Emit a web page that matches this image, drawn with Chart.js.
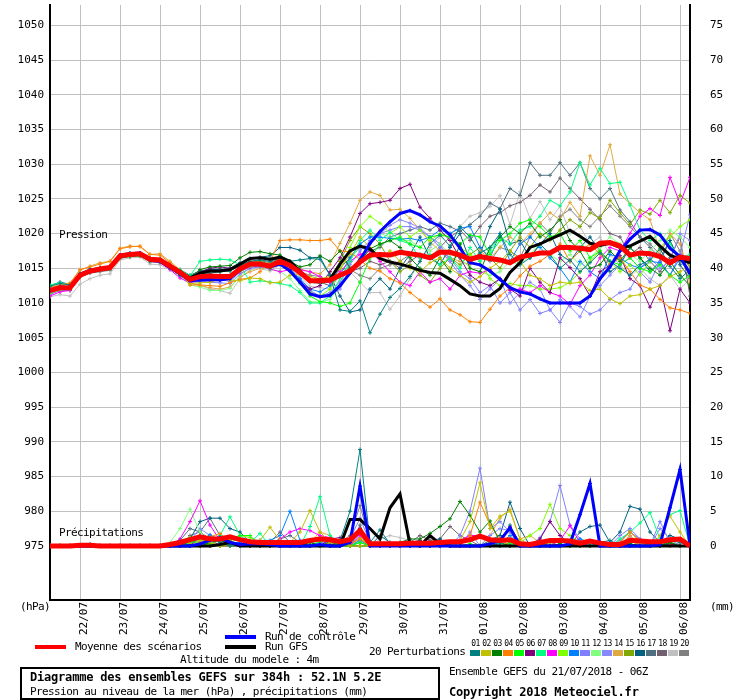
<!DOCTYPE html>
<html>
<head>
<meta charset="utf-8">
<script src="https://cdn.jsdelivr.net/npm/chart.js@4.4.1/dist/chart.umd.min.js"></script>
<style>
body { margin: 0; background: #fff; }
#wrap { position: relative; width: 740px; height: 700px; font-family: "DejaVu Sans Mono", monospace; font-size: 11px; color: #000; overflow: hidden; }
#wrap canvas { position: absolute; left: 0; top: 0; }
.t { position: absolute; white-space: nowrap; line-height: 12px; letter-spacing: -0.6px; }
.b { font-weight: bold; font-size: 12px; letter-spacing: -0.2px; }
.ln { position: absolute; height: 4px; width: 31px; }
.sw { position: absolute; width: 10px; height: 6px; top: 650px; }
.num { position: absolute; top: 639px; width: 11px; text-align: center; font-size: 8px; line-height: 9px; letter-spacing: -0.6px; }
#box { position: absolute; left: 20px; top: 667px; width: 420px; height: 33px; border: 2px solid #000; box-sizing: border-box; }
</style>
</head>
<body>
<div id="wrap">
  <canvas id="grafica" width="740" height="700"></canvas>
  <div class="t" style="left:59px;top:229px">Pression</div>
  <div class="t" style="left:59px;top:527px">Précipitations</div>
  <div class="t" style="left:20px;top:601px">(hPa)</div>
  <div class="t" style="left:710px;top:601px">(mm)</div>
  <div class="ln" style="left:35px;top:645px;background:#ff0000"></div>
  <div class="t" style="left:75px;top:641px">Moyenne des scénarios</div>
  <div class="ln" style="left:225px;top:635px;background:#0000ff"></div>
  <div class="t" style="left:265px;top:631px">Run de contrôle</div>
  <div class="ln" style="left:225px;top:645px;background:#000000"></div>
  <div class="t" style="left:265px;top:641px">Run GFS</div>
  <div class="t" style="left:180px;top:654px">Altitude du modele : 4m</div>
  <div id="box"></div>
  <div class="t b" style="left:30px;top:671px">Diagramme des ensembles GEFS sur 384h : 52.1N 5.2E</div>
  <div class="t" style="left:30px;top:686px">Pression au niveau de la mer (hPa) , précipitations (mm)</div>
  <div class="t" style="left:369px;top:646px">20 Perturbations</div>
  <div class="t" style="left:449px;top:666px">Ensemble GEFS du 21/07/2018 - 06Z</div>
  <div class="t b" style="left:449px;top:686px">Copyright 2018 Meteociel.fr</div>
  <div id="swatches"></div>
</div>
<script>
// Ejes
const dayLabels = ['22/07', '23/07', '24/07', '25/07', '26/07', '27/07', '28/07', '29/07', '30/07', '31/07', '01/08', '02/08', '03/08', '04/08', '05/08', '06/08']
const dayHours = [18, 42, 66, 90, 114, 138, 162, 186, 210, 234, 258, 282, 306, 330, 354, 378]
const pressTicks = [975, 980, 985, 990, 995, 1000, 1005, 1010, 1015, 1020, 1025, 1030, 1035, 1040, 1045, 1050]
const precipTicks = [0, 5, 10, 15, 20, 25, 30, 35, 40, 45, 50, 55, 60, 65, 70, 75]

const pertColors = ['rgb(0,128,128)', 'rgb(192,192,0)', 'rgb(0,128,0)', 'rgb(255,128,0)', 'rgb(0,255,0)', 'rgb(128,0,128)', 'rgb(0,255,128)', 'rgb(255,0,255)', 'rgb(128,255,0)', 'rgb(0,128,255)',
  'rgb(128,128,255)', 'rgb(128,255,128)', 'rgb(136,136,255)', 'rgb(224,168,64)', 'rgb(128,168,0)', 'rgb(0,96,128)', 'rgb(80,112,128)', 'rgb(112,96,112)', 'rgb(192,192,192)', 'rgb(128,128,128)']

// Pression (hPa), pas de 6h depuis 21/07 06Z
const pressMean = [1011.8,1012.2,1012.2,1014.0,1014.6,1014.9,1015.1,1016.8,1017.0,1017.1,1016.3,1016.2,1015.3,1014.4,1013.4,1013.8,1013.9,1013.8,1013.8,1014.9,1015.6,1015.6,1015.3,1016.0,1015.4,1014.4,1013.2,1013.2,1013.3,1014.0,1014.6,1015.9,1016.9,1017.0,1016.9,1017.3,1017.1,1016.9,1016.5,1017.3,1017.3,1016.9,1016.3,1016.7,1016.4,1016.2,1015.8,1016.6,1016.9,1017.2,1017.2,1018.0,1018.0,1017.9,1017.7,1018.6,1018.7,1018.2,1016.9,1017.2,1017.1,1016.7,1015.8,1016.6,1016.4]
const pressControl = [1011.7,1012.3,1012.2,1014.1,1014.7,1014.9,1015.0,1016.9,1017.1,1017.2,1016.2,1016.0,1015.1,1014.2,1013.2,1013.3,1013.4,1013.3,1013.5,1014.8,1015.7,1015.6,1015.2,1015.6,1014.6,1013.0,1011.3,1010.9,1011.1,1012.5,1014.3,1016.2,1018.6,1020.3,1021.7,1022.9,1023.3,1022.7,1021.7,1021.1,1019.8,1017.9,1015.8,1015.5,1014.6,1013.4,1012.2,1011.6,1011.3,1010.6,1010.0,1010.0,1010.0,1010.0,1011.0,1013.5,1015.2,1017.5,1019.2,1020.5,1020.6,1019.8,1017.9,1016.7,1014.2]
const pressGfs = [1011.8,1012.1,1012.1,1014.0,1014.5,1014.8,1015.0,1016.8,1017.0,1017.0,1016.2,1016.1,1015.2,1014.4,1013.6,1014.3,1014.6,1014.6,1014.8,1015.6,1016.4,1016.5,1016.3,1016.6,1016.0,1014.6,1013.2,1013.3,1013.4,1015.6,1017.5,1018.2,1017.8,1016.4,1015.9,1015.6,1015.2,1014.7,1014.4,1014.3,1013.4,1012.5,1011.3,1011.0,1011.0,1012.1,1014.4,1015.8,1018.0,1018.5,1019.2,1019.8,1020.5,1019.6,1018.6,1018.3,1018.6,1018.0,1018.2,1018.9,1019.6,1018.2,1016.9,1016.3,1015.8]
const press01 = [1012.4,1012.8,1012.6,1014.2,1014.8,1015.0,1015.3,1016.9,1017.2,1017.0,1016.4,1016.0,1015.0,1014.0,1013.6,1014.2,1014.3,1014.5,1014.6,1015.4,1016.0,1016.2,1016.0,1016.5,1016.0,1016.2,1016.4,1016.3,1014.0,1009.0,1008.8,1010.3,1005.7,1008.4,1010.8,1012.1,1013.8,1016.0,1018.5,1019.8,1018.2,1021.0,1019.5,1017.2,1018.0,1020.0,1017.0,1015.5,1016.5,1018.5,1017.0,1015.0,1016.2,1014.5,1015.8,1017.2,1016.0,1015.0,1014.0,1015.5,1016.2,1017.8,1015.3,1013.5,1014.8]
const press02 = [1011.6,1012.0,1012.1,1013.8,1014.5,1014.7,1015.0,1016.6,1016.9,1017.0,1016.2,1016.0,1015.2,1014.2,1012.8,1012.9,1013.0,1013.4,1013.3,1013.2,1013.6,1013.5,1012.9,1013.0,1014.0,1014.2,1013.8,1013.5,1013.8,1015.0,1017.0,1019.5,1018.0,1016.5,1017.5,1016.0,1015.0,1014.5,1015.8,1016.5,1015.0,1014.0,1013.0,1013.8,1015.0,1016.0,1017.5,1016.0,1014.0,1013.5,1012.5,1013.0,1012.8,1013.0,1011.8,1012.0,1010.6,1009.9,1011.0,1011.2,1012.0,1012.5,1013.8,1014.5,1015.5]
const press03 = [1011.9,1012.3,1012.4,1014.1,1014.7,1015.0,1015.2,1016.5,1016.7,1016.8,1016.2,1016.1,1015.4,1014.6,1013.7,1014.8,1015.2,1015.3,1015.4,1016.5,1017.3,1017.4,1017.1,1016.9,1016.0,1015.2,1015.5,1016.8,1016.0,1017.5,1015.0,1016.0,1017.8,1018.5,1019.0,1018.0,1016.5,1015.0,1014.0,1016.5,1014.5,1018.5,1015.0,1014.5,1018.0,1019.5,1021.0,1020.0,1021.5,1019.5,1020.5,1022.0,1019.0,1017.5,1015.0,1015.5,1017.5,1016.0,1018.0,1016.5,1015.0,1014.0,1016.0,1014.0,1012.5]
const press04 = [1012.2,1012.5,1012.8,1014.8,1015.2,1015.6,1016.0,1017.8,1018.1,1018.2,1017.0,1016.9,1015.8,1014.5,1012.6,1012.6,1012.5,1012.4,1012.9,1013.4,1013.6,1014.5,1016.0,1019.0,1019.1,1019.1,1019.0,1019.0,1019.2,1017.5,1017.4,1016.2,1015.0,1014.6,1013.5,1012.9,1011.5,1010.4,1009.4,1010.6,1009.0,1008.3,1007.3,1007.2,1009.1,1011.0,1012.2,1013.9,1015.3,1016.0,1017.0,1018.5,1016.0,1017.5,1018.5,1017.0,1015.5,1016.5,1014.5,1012.6,1012.0,1010.5,1009.3,1009.0,1008.5]
const press05 = [1011.5,1012.0,1012.0,1013.8,1014.4,1014.7,1014.9,1016.6,1016.8,1016.9,1016.0,1015.9,1015.0,1014.1,1013.2,1013.4,1013.5,1013.6,1013.4,1014.6,1015.3,1015.4,1015.0,1015.6,1014.5,1012.8,1011.0,1010.2,1010.0,1009.5,1010.0,1013.0,1016.5,1018.5,1019.0,1019.5,1018.5,1018.0,1019.5,1019.8,1019.5,1018.5,1019.8,1019.5,1017.0,1019.0,1020.0,1021.5,1022.0,1021.0,1019.5,1020.0,1017.5,1019.0,1016.5,1017.5,1016.0,1015.5,1016.5,1015.0,1014.5,1015.5,1014.0,1013.0,1014.0]
const press06 = [1011.7,1012.1,1012.0,1014.0,1014.5,1014.8,1015.0,1016.7,1016.9,1017.0,1016.1,1016.0,1015.2,1014.3,1013.5,1014.4,1015.0,1015.2,1015.0,1015.2,1015.5,1015.5,1015.0,1015.8,1014.8,1013.0,1012.0,1012.5,1014.5,1016.5,1019.5,1022.9,1024.3,1024.5,1024.8,1026.5,1027.1,1023.8,1022.2,1020.5,1019.0,1016.5,1014.0,1013.0,1012.5,1013.5,1012.0,1011.0,1015.0,1013.0,1011.5,1016.5,1015.1,1013.5,1011.0,1014.5,1015.5,1016.8,1013.5,1012.5,1009.4,1012.5,1006.0,1012.0,1010.0]
const press07 = [1012.6,1012.9,1012.5,1014.2,1014.6,1014.9,1015.1,1016.7,1016.9,1017.0,1016.4,1016.2,1015.5,1014.8,1013.9,1016.0,1016.2,1016.3,1016.2,1015.5,1013.0,1013.2,1013.0,1012.8,1012.5,1011.5,1010.0,1010.0,1011.0,1013.5,1016.0,1019.0,1020.5,1019.0,1020.2,1019.0,1018.5,1016.5,1017.0,1015.5,1016.5,1015.0,1018.0,1016.0,1017.5,1019.5,1018.5,1020.5,1021.0,1022.5,1024.8,1024.0,1026.0,1030.2,1027.0,1029.4,1027.2,1027.4,1024.1,1020.5,1019.0,1020.0,1018.5,1016.5,1017.0]
const press08 = [1011.0,1011.6,1011.8,1013.9,1014.4,1014.7,1015.0,1016.7,1016.9,1017.0,1016.0,1015.8,1014.8,1013.6,1012.9,1013.3,1013.2,1013.3,1013.4,1014.5,1015.2,1015.3,1014.9,1014.5,1014.8,1014.8,1014.5,1013.8,1013.0,1014.5,1016.0,1017.0,1017.5,1016.0,1014.5,1013.0,1012.5,1014.5,1013.0,1013.5,1012.0,1014.0,1014.5,1014.3,1014.8,1013.5,1011.8,1012.0,1011.5,1012.5,1011.5,1011.0,1009.8,1012.5,1014.0,1016.5,1018.0,1017.5,1020.0,1022.5,1023.6,1022.6,1028.1,1024.3,1028.1]
const press09 = [1011.4,1011.9,1012.0,1013.9,1014.5,1014.8,1015.0,1016.8,1017.0,1017.1,1016.3,1016.2,1015.3,1014.3,1013.2,1013.6,1013.8,1013.9,1013.7,1015.0,1015.8,1015.7,1015.4,1016.2,1014.8,1013.0,1011.5,1011.0,1012.0,1014.5,1018.0,1021.0,1022.5,1021.5,1020.0,1021.0,1019.5,1020.5,1019.0,1020.0,1019.5,1018.0,1017.0,1016.0,1013.5,1012.5,1012.8,1012.5,1012.5,1012.0,1012.0,1012.2,1013.0,1014.5,1016.0,1017.5,1016.0,1014.5,1015.5,1014.0,1016.0,1018.0,1019.5,1021.0,1022.0]
const press10 = [1012.1,1012.4,1012.3,1014.0,1014.6,1014.9,1015.0,1016.9,1017.1,1017.2,1016.2,1016.1,1015.2,1014.5,1013.3,1013.5,1013.7,1013.8,1013.5,1014.8,1015.5,1015.6,1015.3,1015.8,1014.9,1013.5,1012.0,1011.6,1012.5,1014.0,1016.5,1018.5,1019.5,1019.5,1019.3,1019.2,1019.3,1019.0,1019.5,1020.5,1020.0,1020.8,1021.0,1018.0,1016.5,1020.0,1016.0,1018.5,1019.5,1018.0,1016.5,1015.0,1013.0,1016.0,1014.5,1013.5,1017.0,1016.5,1015.5,1015.0,1016.0,1015.8,1014.0,1016.5,1015.5]
const press11 = [1011.2,1011.8,1011.9,1013.8,1014.4,1014.7,1014.9,1016.6,1016.8,1016.9,1016.0,1015.9,1015.0,1014.0,1013.0,1013.1,1013.0,1012.9,1012.8,1014.2,1015.0,1015.2,1015.0,1015.5,1014.6,1013.2,1011.8,1011.0,1011.5,1013.0,1015.5,1017.5,1019.0,1020.0,1020.5,1021.0,1021.0,1020.5,1019.5,1018.0,1016.5,1014.5,1013.5,1011.5,1012.5,1010.0,1011.5,1009.0,1010.5,1008.5,1009.0,1007.2,1010.0,1009.5,1008.4,1009.0,1010.5,1011.5,1012.0,1014.5,1013.0,1016.0,1014.0,1017.0,1022.7]
const press12 = [1011.8,1012.3,1012.4,1014.0,1014.6,1014.9,1015.1,1016.7,1016.9,1017.0,1016.2,1016.0,1015.0,1013.9,1012.6,1012.3,1011.8,1011.8,1012.1,1014.0,1015.0,1015.2,1014.8,1014.6,1013.5,1011.8,1010.2,1010.1,1010.5,1012.5,1016.0,1018.5,1019.5,1020.0,1019.5,1019.0,1019.0,1018.0,1017.5,1018.5,1017.0,1016.5,1015.0,1014.5,1014.0,1014.5,1016.0,1015.5,1017.0,1018.5,1017.0,1016.0,1017.0,1015.5,1016.5,1018.0,1019.5,1018.5,1017.0,1016.0,1017.5,1019.0,1020.5,1019.5,1018.0]
const press13 = [1011.6,1012.1,1012.2,1014.0,1014.6,1014.8,1015.0,1016.8,1017.0,1017.0,1016.2,1016.1,1015.1,1014.2,1013.1,1013.0,1013.2,1013.4,1013.1,1014.5,1015.4,1015.5,1015.2,1015.9,1015.0,1013.4,1011.6,1011.0,1011.0,1012.0,1014.5,1016.5,1018.5,1020.0,1021.2,1022.0,1021.5,1020.8,1019.5,1018.5,1016.0,1014.0,1012.5,1010.5,1012.0,1013.5,1010.0,1011.5,1013.0,1012.0,1009.0,1010.5,1009.5,1008.0,1011.0,1012.5,1014.0,1015.5,1016.5,1015.0,1016.5,1015.0,1016.0,1020.0,1019.0]
const press14 = [1012.3,1012.6,1012.9,1014.7,1015.3,1015.8,1016.0,1017.9,1018.2,1018.1,1017.0,1017.1,1016.0,1014.8,1012.9,1012.5,1012.2,1012.0,1012.3,1013.8,1014.5,1015.0,1015.5,1016.3,1015.5,1014.9,1014.5,1014.2,1015.5,1018.6,1021.5,1024.8,1026.0,1025.5,1023.4,1023.5,1022.2,1020.5,1018.8,1017.5,1016.5,1016.0,1015.5,1017.5,1016.5,1018.0,1019.5,1018.5,1020.0,1021.5,1023.0,1022.0,1024.5,1022.5,1031.2,1028.4,1032.8,1025.7,1024.3,1023.0,1022.0,1017.5,1020.0,1018.5,1013.0]
const press15 = [1011.9,1012.2,1012.3,1014.1,1014.7,1015.0,1015.2,1016.9,1017.1,1017.2,1016.4,1016.3,1015.4,1014.5,1013.4,1013.8,1014.0,1014.1,1013.9,1015.2,1016.0,1016.0,1015.6,1016.4,1015.8,1014.6,1013.4,1013.0,1013.5,1016.0,1019.0,1021.0,1020.0,1018.5,1016.0,1014.5,1015.5,1014.0,1013.0,1015.0,1016.5,1015.5,1017.0,1018.0,1016.5,1015.0,1017.5,1019.5,1018.0,1020.0,1019.0,1020.5,1022.0,1021.0,1023.0,1022.2,1024.8,1023.0,1021.3,1023.4,1022.8,1024.8,1023.0,1025.5,1024.4]
const press16 = [1012.5,1013.0,1012.7,1014.3,1014.9,1015.1,1015.3,1016.8,1017.0,1017.0,1016.5,1016.4,1015.6,1014.8,1014.0,1014.6,1014.9,1014.8,1015.0,1015.8,1016.4,1016.6,1016.8,1018.0,1018.0,1017.6,1016.5,1016.6,1014.0,1011.0,1008.7,1009.0,1012.0,1013.5,1012.0,1015.0,1017.0,1019.5,1016.5,1015.5,1018.0,1020.0,1016.0,1017.0,1021.0,1023.5,1018.5,1019.0,1016.5,1018.5,1020.0,1017.0,1016.0,1018.0,1019.5,1017.5,1014.5,1015.5,1018.0,1016.5,1014.5,1016.0,1019.0,1015.5,1013.5]
const press17 = [1011.9,1012.2,1012.3,1014.1,1014.7,1015.0,1015.2,1016.9,1017.1,1017.2,1016.5,1016.3,1015.5,1014.7,1013.7,1014.5,1014.8,1014.9,1014.7,1015.3,1016.0,1016.1,1015.8,1016.4,1015.5,1014.3,1013.0,1012.8,1013.0,1015.0,1016.5,1018.0,1017.5,1018.0,1019.5,1020.0,1020.5,1021.0,1020.5,1021.5,1021.0,1020.3,1021.3,1022.5,1024.4,1023.6,1026.5,1025.5,1030.2,1028.4,1028.4,1030.2,1028.4,1030.2,1026.5,1025.0,1026.5,1023.4,1021.7,1019.5,1018.0,1016.5,1019.0,1016.0,1014.5]
const press18 = [1011.5,1011.9,1012.0,1013.9,1014.5,1014.8,1015.0,1016.6,1016.8,1016.9,1016.1,1016.0,1015.1,1014.2,1013.3,1013.8,1014.0,1013.9,1013.8,1015.0,1015.7,1015.6,1015.2,1015.8,1015.2,1014.2,1013.2,1013.0,1012.5,1014.0,1014.5,1015.0,1016.0,1015.5,1016.0,1015.0,1016.0,1017.0,1016.5,1018.0,1019.5,1020.5,1019.0,1021.0,1022.5,1023.0,1024.0,1024.5,1025.5,1027.0,1026.0,1028.0,1026.5,1025.0,1023.5,1022.0,1020.0,1019.5,1017.0,1018.0,1016.0,1014.5,1016.5,1019.5,1011.0]
const press19 = [1010.9,1011.2,1011.0,1012.7,1013.5,1014.0,1014.2,1016.2,1016.5,1016.6,1015.6,1015.5,1014.8,1013.8,1012.8,1012.6,1012.0,1011.8,1011.4,1013.5,1014.8,1015.0,1014.6,1015.5,1015.0,1013.8,1012.4,1012.2,1012.0,1014.0,1014.5,1013.0,1011.5,1011.5,1009.1,1011.0,1013.5,1016.0,1018.0,1019.5,1020.0,1021.0,1022.5,1023.0,1023.9,1025.5,1021.3,1026.0,1022.2,1024.6,1022.0,1023.9,1020.0,1021.0,1018.5,1019.5,1017.0,1015.5,1014.0,1015.0,1013.5,1012.5,1014.0,1012.0,1013.5]
const press20 = [1011.3,1011.8,1011.8,1013.7,1014.3,1014.5,1014.7,1016.4,1016.7,1016.8,1015.9,1015.8,1015.0,1014.0,1013.2,1013.6,1013.7,1013.6,1013.5,1014.7,1015.3,1015.3,1015.0,1015.6,1015.0,1014.5,1014.0,1013.8,1013.0,1015.0,1014.8,1014.0,1013.5,1015.0,1015.5,1016.0,1017.0,1016.5,1016.8,1017.5,1016.0,1017.0,1016.5,1017.0,1016.0,1018.0,1017.5,1016.5,1019.5,1021.5,1020.0,1022.5,1023.5,1022.0,1021.0,1022.5,1024.0,1022.5,1021.0,1019.5,1018.5,1017.0,1020.0,1017.5,1015.0]

// Précipitations (mm / 6h)
const precipMean = [0,0,0,0.1,0.1,0,0,0,0,0,0,0,0.2, 0.5,0.9,1.3,1.0,1.0,1.3,0.9,0.6,0.5,0.5,0.5,0.5,0.5, 0.8,1.0,0.9,0.6,0.9,2.2,0.3,0.3,0.3,0.3,0.4,0.4,0.4, 0.5,0.6,0.6,0.9,1.4,0.9,0.8,0.9,0.3,0.2,0.5,0.8,0.8, 0.7,0.4,0.7,0.4,0.2,0.2,0.8,0.7,0.6,0.6,0.9,1.0,0]
const precipControl = [0,0,0,0,0,0,0,0,0,0,0,0,0, 0,0,0.3,0.8,1.2,0.5,0.2,0.3,0.3,0.2,0,0,0, 0,0.2,0,0,0.5,8.6,0,0,0,0,0,0,0, 0,0,0,0,0,0.3,0.8,2.6,0,0,0,0,0, 0.3,4.5,9.0,0,0,0,0,0,0,0.2,5.5,11.0,0]
const precipGfs = [0,0,0,0,0,0,0,0,0,0,0,0,0, 0,0,0,0,0.2,0.5,0,0,0,0,0,0,0, 0,0,0,0,3.8,3.8,2.5,1.0,5.5,7.5,0.2,0,1.5, 0.3,0,0,0,0,0,0,0,0,0,0,0,0, 0,0,0,0,0,0,0,0,0,0,0,0,0]
const precip01 = [0,0,0,0,0.3,0,0,0,0,0,0,0,0, 0.8,0,1.5,1.2,0.5,0,0,0,0,0,0,0,0, 0,0,0,0.8,5.0,13.9,0.5,2.3,0.3,0,0,0.3,0, 0,0,0,0,0,0,0.5,3.0,0.3,0,0,0,0, 0,0,0,0.5,0.8,0,0,0,0,0,0.8,0.5,0]
const precip02 = [0,0,0,0,0,0,0,0,0,0,0,0,0, 0,0.3,0.8,0.5,0,0,0,0.3,0.8,2.7,0.8,0.5,2.0, 5.1,2.0,0.5,0,0,0,0,0,0,0,0,0,0, 0,0,0.8,3.5,9.1,2.5,4.3,5.0,1.0,0,0,0,0, 0,0,0,0,0,0.3,0.8,0,0,1.5,4.3,2.0,0]
const precip03 = [0,0,0,0,0,0,0,0,0,0,0,0,0, 0,0,0,0.5,0.8,0.3,0,0,0,0,0,0,0, 0.5,0,0.6,0,0,0,0,0,0,0.5,1.0,1.0,1.8, 2.8,3.9,6.4,4.4,2.0,3.6,0.5,0,0,0,0,0,0.3, 0,0,0,0,0,0,0.3,0,0,0,0.5,0,0]
const precip04 = [0,0,0,0,0,0,0,0,0,0,0,0,0, 0,0,0.5,1.3,1.8,0.6,0,0,0,0,0,0,0, 0,0,0.5,0,0.3,1.0,0,0,0,0,0,0,0, 0,0,0,1.5,6.3,3.0,1.0,0,0,0,0.5,0,0.3, 0,0,0,0,0,0.5,2.0,0.8,0,0,0,0,0]
const precip05 = [0,0,0,0,0,0,0,0,0,0,0,0,0, 0,0.6,0.5,0.3,0,0.3,1.5,1.5,0,0.3,0,0,0, 0,0.6,1.0,0,0,0.5,0,0.3,0,0,0,0,0, 0,0,0,0.3,0,0,0,0.5,0,0,0,0,0, 0,0,0,0,0,0,0.3,0,0,0,0.5,0.8,0]
const precip06 = [0,0,0,0,0,0,0,0,0,0,0,0,0, 0,0,0,0,0,0,0,0,0,0,0,0,0, 0.6,0,1.0,1.2,0.5,2.5,0,0.3,0,0,0.5,0.8,0, 0,0,0,0,0,0,0,0,0,0,1.0,3.5,1.5, 0.3,0,0,0,0,0,0.3,0,0,0,0.3,0,0]
const precip07 = [0,0,0,0,0,0,0,0,0,0,0,0,0, 0,0.5,1.0,0,1.5,4.2,1.5,0.5,1.8,0,0,0,0, 2.8,7.1,1.5,0.5,0,0.5,0,0,0,0,0,0,0, 0,0,0,0,0,0,0,0.3,0,0,0,0,0, 0,0,0,0,0,1.0,2.0,3.3,4.8,1.0,4.5,5.1,0]
const precip08 = [0,0,0,0,0,0,0,0,0,0,0,0,0, 1.0,3.5,6.5,3.0,0.8,0.5,0,0,0,0.3,1.0,2.0,2.5, 2.2,1.5,1.2,0.3,0,1.5,0,0,0,0,0,0,0, 0,0.5,0.8,1.5,1.5,0.8,1.0,2.8,0.5,0,0,0,0.8, 2.9,0.5,0,0,0,0,0,0,0,0,0,0,0]
const precip09 = [0,0,0,0,0,0,0,0,0,0,0,0,0.3, 0.8,1.2,0.8,0,0,1.0,1.5,1.2,0.5,0,0,0,0, 0,1.5,0.8,0,0,1.2,0,0,0,0,0,0,0, 0,0,0,0,0,0,0,0.3,0.5,1.5,2.5,6.0,2.5, 1.5,0.5,0,0,0,0,0,0,0,0,0,0,0]
const precip10 = [0,0,0,0,0,0,0,0,0,0,0,0,0, 0,0.3,0.8,1.6,0.8,0.5,0.5,0.8,0.8,0.8,1.5,5.0,0.8, 0,0,0.3,0,0,0.8,0,0,0,0,0,0,0, 0,0,0,0,0,0,0.3,1.5,0,0,0,0,0, 0.5,1.0,0.5,0,0,0,0,0,0,0,0,0,0]
const precip11 = [0,0,0,0,0,0,0,0,0,0,0,0,0, 0,0,0.5,1.0,0.5,0,0,0,0,0,0,0,0, 0,1.3,0.8,0,1.0,4.0,0.5,0,0,0,0,0,0, 0,0,1.5,5.0,11.2,2.5,3.5,2.0,0,0,1.2,3.5,8.7, 3.0,1.0,0,0,0,1.5,2.5,1.0,0,3.5,0.5,0,0]
const precip12 = [0,0,0,0,0,0,0,0,0,0,0,0,0.5, 2.5,5.3,2.0,0.8,0.5,0,0,0,0.5,0.5,0,0,0, 0,0.8,1.2,0,0,1.0,0,0,0,0,0,0,0, 0,0,0,0,0,0,0,0,0,0,0,0,0, 0,0.5,0.3,0,0,0,0,0,0,0,0,0,0]
const precip13 = [0,0,0,0,0,0,0,0,0,0,0,0,0, 0,0.8,2.5,1.5,0.5,0,0,0,0,0,0,0,0, 0,0.5,0.5,0,0,1.8,0,0,0,0,0,0,0, 0,0.5,0,2.0,0,1.5,2.5,2.2,0,0,0,0,0, 0,0,0,0,0,0.8,2.0,1.0,0,2.5,1.0,0,0]
const precip14 = [0,0,0,0,0,0,0,0,0,0,0,0,0, 0,0,1.0,1.5,1.0,0,0,0,0,0,0,0,0, 0.5,2.0,1.5,0,0,0,0,0,0,0,0,0,0, 0.5,0,0,0,0,1.5,4.0,5.3,1.0,1.5,0.5,0,0, 0,0,0,0,0,0,1.5,0,0,0,0.8,0,0]
const precip15 = [0,0,0,0,0,0,0,0,0,0,0,0,0, 0,0,0.5,0,1.2,0.8,0,0,0,0,0,0,0, 0,0,0.3,0,0,0.5,0,0,0,0,0,0,0, 0,0,0,0,0,0.5,0,0,0,0,0,0.5,0, 0,0,0,0,0,0.5,2.2,0.5,0,0,0.5,0,0]
const precip16 = [0,0,0,0,0,0,0,0,0,0,0,0,0, 0,1.0,3.5,4.0,4.0,2.5,2.0,0.5,0,0,0,0,0, 0,0,0,0,0,0,0,1.5,0.5,0,0,0,0, 1.0,0,0,0,0,0.8,1.5,6.3,2.5,0,0,0,0, 0,2.0,2.8,3.0,0.5,2.0,5.7,5.3,2.0,0.5,1.5,1.0,0]
const precip17 = [0,0,0,0,0,0,0,0,0,0,0,0,0, 0.8,2.5,2.0,4.0,1.5,0.8,0,0,0.5,0.3,1.0,1.5,0.5, 0,0,0,0,0,3.0,0,0.3,0,0,0,0,0, 0,0,0,0,0,0,0,0,0,0,0,0,0, 0,0,0,0,0,0.5,0,0,0,0,0,0,0]
const precip18 = [0,0,0,0,0,0,0,0,0,0,0,0,0, 0,1.5,2.0,1.0,0,0,0,0,0,0.5,2.0,0.5,0, 0,0,0,0.8,0,2.2,0,0,0,0,0.5,1.5,0.8, 1.0,2.8,1.5,0.8,0,0,0,0,0,0,0,0,0, 0,0,0,0,0,0,1.5,0,0,0,0.5,0,0]
const precip19 = [0,0,0,0,0,0,0,0,0,0,0,0,0, 0,0.5,1.5,0.5,0,0,0,0,0,0,0,0,0, 0,0,0,0,0,1.0,0,1.0,1.5,1.2,0.8,0.3,0, 0,0,0,0,0,0,0,0.5,0,0,0,0,0, 0,0,0,0,0,0,0,0.3,0,0,0.5,0,0]
const precip20 = [0,0,0,0,0,0,0,0,0,0,0,0,0, 0,0,1.5,1.0,0.8,0,0,0,0,0,0,0,0.5, 0,0,0,0.5,1.5,5.8,0.5,0.5,0,0,0.3,0,0.8, 0,0,0,0,0,0,0,0,0,0,0,0,0, 0,0,0,0,0,0,0,0.5,0,0,0,0.5,0]

const pertPress = [press01, press02, press03, press04, press05, press06, press07, press08, press09, press10, press11, press12, press13, press14, press15, press16, press17, press18, press19, press20]
const pertPrecip = [precip01, precip02, precip03, precip04, precip05, precip06, precip07, precip08, precip09, precip10, precip11, precip12, precip13, precip14, precip15, precip16, precip17, precip18, precip19, precip20]

// Leyenda de perturbaciones
const swatches = document.querySelector('#swatches')
pertColors.forEach((c, k) => {
  const n = document.createElement('div')
  n.className = 'num'
  n.style.left = (470 + 11 * k) + 'px'
  n.textContent = String(k + 1).padStart(2, '0')
  swatches.appendChild(n)
  const s = document.createElement('div')
  s.className = 'sw'
  s.style.left = (470 + 11 * k) + 'px'
  s.style.background = c
  swatches.appendChild(s)
})

// Gráfica
const hours = pressMean.map((v, i) => i * 6)
const toXY = values => values.map((v, i) => ({ x: hours[i], y: v }))
const font = { family: 'DejaVu Sans Mono', size: 11 }

const datasets = []
function addPair(press, precip, color, width, points, order) {
  const base = {
    borderColor: color, backgroundColor: color, borderWidth: width, fill: false,
    pointStyle: 'cross', pointRadius: points ? 2 : 0, pointBorderWidth: 1, pointBorderColor: color,
    order: order
  }
  datasets.push(Object.assign({ data: toXY(press), yAxisID: 'y' }, base))
  datasets.push(Object.assign({ data: toXY(precip), yAxisID: 'y2' }, base))
}
addPair(pressMean, precipMean, '#ff0000', 5, false, 0)
addPair(pressControl, precipControl, '#0000ff', 3, true, 1)
addPair(pressGfs, precipGfs, '#000000', 3, false, 2)
pertPress.forEach((p, k) => addPair(p, pertPrecip[k], pertColors[k], 1, true, 3 + k))

// sin relleno extra: el área de trazado ocupa 50..690 x 0..600
const noPad = s => { s.paddingTop = 0; s.paddingBottom = 0; s.paddingLeft = 0; s.paddingRight = 0 }

const graph = document.querySelector('#grafica')

new Chart(graph, {
  type: 'line',
  data: { datasets: datasets },
  options: {
    responsive: false,
    animation: false,
    devicePixelRatio: 1,
    layout: { padding: 0 },
    elements: { line: { tension: 0 } },
    plugins: { legend: { display: false }, tooltip: { enabled: false } },
    scales: {
      x: {
        type: 'linear', min: 0, max: 384,
        afterBuildTicks: s => { s.ticks = dayHours.map(v => ({ value: v })) },
        afterFit: s => { s.height = 100; noPad(s) },
        ticks: {
          autoSkip: false, minRotation: 90, maxRotation: 90, padding: 2, labelOffset: 4,
          color: '#000', font: font,
          callback: v => dayLabels[dayHours.indexOf(v)] || ''
        },
        grid: { color: '#c0c0c0', drawTicks: false },
        border: { color: '#000', width: 2 }
      },
      y: {
        position: 'left', min: 967.21, max: 1052.93,
        afterBuildTicks: s => { s.ticks = pressTicks.map(v => ({ value: v })) },
        afterFit: s => { s.width = 50; noPad(s) },
        ticks: { autoSkip: false, padding: 6, color: '#000', font: font, callback: v => String(v) },
        grid: { color: '#c0c0c0', drawTicks: false },
        border: { color: '#000', width: 2 }
      },
      y2: {
        position: 'right', min: -7.79, max: 77.93,
        afterBuildTicks: s => { s.ticks = precipTicks.map(v => ({ value: v })) },
        afterFit: s => { s.width = 50; noPad(s) },
        ticks: { autoSkip: false, padding: 20, color: '#000', font: font, callback: v => String(v) },
        grid: { drawOnChartArea: false, drawTicks: false },
        border: { color: '#000', width: 2 }
      }
    }
  }
})
</script>
</body>
</html>
